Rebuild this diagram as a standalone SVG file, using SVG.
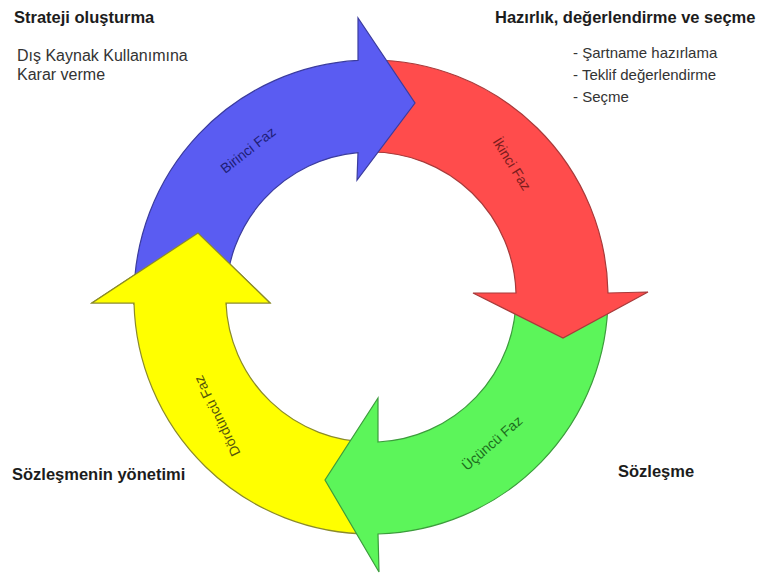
<svg xmlns="http://www.w3.org/2000/svg" xmlns:xlink="http://www.w3.org/1999/xlink" width="763" height="574" viewBox="0 0 763 574">
  <style>
    .title { font-family: "Liberation Sans", Arial, sans-serif; font-weight: bold; font-size: 16.5px; fill: #1c1c1c; }
    .body { font-family: "Liberation Sans", Arial, sans-serif; font-size: 16px; fill: #333333; }
    .list { font-family: "Liberation Sans", Arial, sans-serif; font-size: 15px; fill: #333333; }
    .phase { font-family: "Liberation Sans", Arial, sans-serif; font-size: 14px; text-anchor: middle; }
    .arrow { stroke-width: 1.2; stroke-linejoin: miter; }
    .blue { fill: #5a5cf2; stroke: #3b3c9e; }
    .red { fill: #ff4c4c; stroke: #a83a3a; }
    .green { fill: #5cf55a; stroke: #3c9c3c; }
    .yellow { fill: #ffff00; stroke: #8b8b2a; }
  </style>
  <defs>
    <!-- ring: centre (371,297), outer radius 237, inner radius 145 -->
    <path id="shape-yellow" d="M 371,534 A 237 237 0 0 1 134,303 L 92,303 L 198,233 L 270,303 L 226,303 A 145 145 0 0 0 371,442 Z"/>
    <clipPath id="yellow-head-clip">
      <rect x="80" y="220" width="210" height="85"/>
    </clipPath>
  </defs>
  <rect width="763" height="574" fill="#ffffff"/>

  <!-- fourth phase (drawn first, its head is re-drawn on top at the end) -->
  <g id="phase-4">
    <use xlink:href="#shape-yellow" class="arrow yellow"/>
    <text class="phase" fill="#55550c" transform="translate(217,416) rotate(-116)" dy="0.35em">Dördüncü Faz</text>
  </g>

  <!-- third phase -->
  <g id="phase-3">
    <path class="arrow green" d="M 608,297 A 237 237 0 0 1 378,534 L 379,572 L 325,480 L 378,398 L 378,442 A 145 145 0 0 0 516,297 Z"/>
    <text class="phase" fill="#1d6e1d" transform="translate(492,443) rotate(-41)" dy="0.35em">Üçüncü Faz</text>
  </g>

  <!-- second phase -->
  <g id="phase-2">
    <path class="arrow red" d="M 371,60 A 237 237 0 0 1 608,293 L 648,292 L 563,338 L 473,293 L 516,293 A 145 145 0 0 0 371,152 Z"/>
    <text class="phase" fill="#7a1c1c" transform="translate(512,164) rotate(58)" dy="0.35em">İkinci Faz</text>
  </g>

  <!-- first phase -->
  <g id="phase-1">
    <path class="arrow blue" d="M 134,297 A 237 237 0 0 1 358,60.4 L 358,18 L 415,103 L 357,180 L 358,152.6 A 145 145 0 0 0 226,297 Z"/>
    <text class="phase" fill="#1e1e78" transform="translate(248,150) rotate(-38)" dy="0.35em">Birinci Faz</text>
  </g>

  <!-- head of the fourth phase overlaps the tail of the first -->
  <g id="connectors">
    <use xlink:href="#shape-yellow" class="arrow yellow" clip-path="url(#yellow-head-clip)"/>
  </g>

  <g id="label-strategy">
    <text class="title" x="14" y="23">Strateji oluşturma</text>
    <text class="body" x="17" y="61">Dış Kaynak Kullanımına</text>
    <text class="body" x="17" y="80">Karar verme</text>
  </g>

  <g id="label-preparation">
    <text class="title" x="495" y="23">Hazırlık, değerlendirme ve seçme</text>
    <text class="list" x="573" y="58">- Şartname hazırlama</text>
    <text class="list" x="573" y="80">- Teklif değerlendirme</text>
    <text class="list" x="573" y="102">- Seçme</text>
  </g>

  <g id="label-contract">
    <text class="title" x="618" y="477">Sözleşme</text>
  </g>

  <g id="label-management">
    <text class="title" x="12" y="480">Sözleşmenin yönetimi</text>
  </g>
</svg>
